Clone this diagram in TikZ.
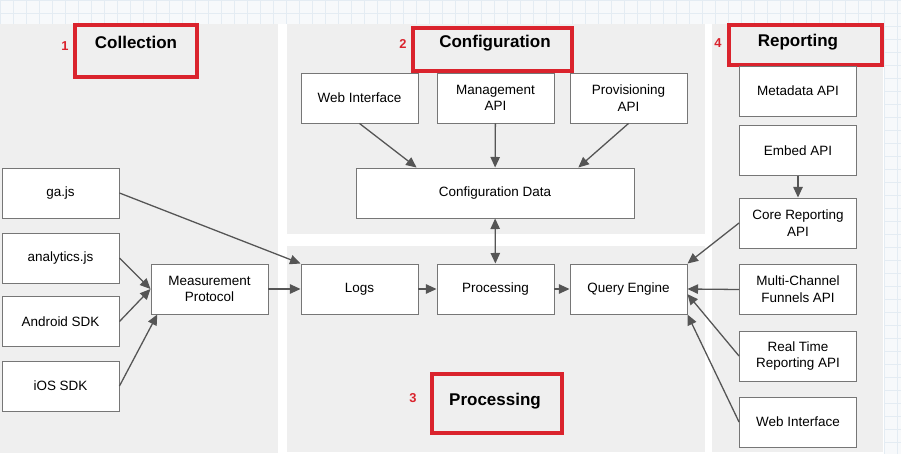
\documentclass[tikz,border=0pt]{standalone}
\usepackage{fontspec}
\setmainfont{Liberation Sans}
\usepackage{tikz}
\usetikzlibrary{arrows.meta}
\definecolor{gridblue}{RGB}{228,236,243}
\definecolor{paper}{RGB}{247,249,251}
\definecolor{panelgray}{RGB}{239,239,239}
\definecolor{boxline}{RGB}{118,118,118}
\definecolor{arrowgray}{RGB}{85,85,85}
\definecolor{markred}{RGB}{218,35,45}

\begin{document}
\begin{tikzpicture}[x=0.03cm,y=-0.03cm,
  box/.style={draw=boxline,line width=0.8pt,fill=white,minimum width=3.51cm,minimum height=1.5cm,
    inner sep=1pt,align=center,font=\fontsize{11.5}{14.2}\selectfont},
  flow/.style={draw=arrowgray,line width=1.1pt,-{Triangle[length=9pt,width=8pt]}},
  redbox/.style={draw=markred,line width=3.2pt},
  head/.style={font=\fontsize{14.5}{17}\selectfont\bfseries},
  num/.style={text=markred,font=\fontsize{11}{13}\selectfont\bfseries}]
\useasboundingbox (0,0) rectangle (901,454);
% paper and panels
\fill[paper] (0,0) rectangle (901,454);
\foreach \gx in {0,13,...,900} \draw[gridblue,line width=0.3pt] (\gx,0) -- (\gx,454);
\foreach \gy in {0,13,...,454} \draw[gridblue,line width=0.3pt] (0,\gy) -- (901,\gy);
\fill[white] (0,24) rectangle (884,454);
\fill[panelgray] (0,24) rectangle (278,453);
\fill[panelgray] (287,24) rectangle (705,234);
\fill[panelgray] (287,246) rectangle (705,452);
\fill[panelgray] (712,24) rectangle (883,452);

% section titles
\draw[redbox] (75,25) rectangle (197,77);
\node[head] (colhead) at (136,42) {Collection};
\node[num] (n1) at (65,46) {1};
\draw[redbox] (413,28) rectangle (572,71);
\node[head] (confhead) at (495,43) {Configuration};
\node[num] (n2) at (403,44) {2};
\draw[redbox] (432,374) rectangle (562,433);
\node[head] (prochead) at (495,401) {Processing};
\node[num] (n3) at (413,398) {3};
\draw[redbox] (729,25) rectangle (882,65);
\node[head] (rephead) at (798,42) {Reporting};
\node[num] (n4) at (718,43) {4};

% collection
\node[box] (gajs) at (60.5,193) {ga.js};
\node[box] (analytics) at (60.5,258) {analytics.js};
\node[box] (android) at (60.5,321.5) {Android SDK};
\node[box] (ios) at (60.5,386) {iOS SDK};
\node[box] (mp) at (209.5,289) {Measurement\\Protocol};

% configuration
\node[box] (cweb) at (359.5,98) {Web Interface};
\node[box] (mgmt) at (495.5,98) {Management\\API};
\node[box] (prov) at (628.5,98) {Provisioning\\API};
\node[box,minimum width=8.34cm] (cdata) at (495,193) {Configuration Data};

% processing
\node[box] (logs) at (359.5,289) {Logs};
\node[box] (proc) at (495.5,289) {Processing};
\node[box] (qe) at (628.5,289) {Query Engine};

% reporting
\node[box] (meta) at (798,91) {Metadata API};
\node[box] (embed) at (798,150.5) {Embed API};
\node[box] (core) at (798,223) {Core Reporting\\API};
\node[box] (mcf) at (798,289.5) {Multi-Channel\\Funnels API};
\node[box] (rt) at (798,356) {Real Time\\Reporting API};
\node[box] (rweb) at (798,422) {Web Interface};

% connectors
\draw[flow] (gajs.east) -- (logs.north west);
\draw[flow] (analytics.east) -- (mp.west);
\draw[flow] (android.east) -- (mp.west);
\draw[flow] (ios.east) -- (mp.206);
\draw[flow] (mp) -- (logs);
\draw[flow] (logs) -- (proc);
\draw[flow] (proc) -- (qe);
\draw[flow] (cweb.south) -- (cdata.162);
\draw[flow] (mgmt) -- (cdata);
\draw[flow] (prov.south) -- (cdata.17);
\draw[flow,{Triangle[length=9pt,width=8pt]}-{Triangle[length=9pt,width=8pt]}] (cdata) -- (proc);
\draw[flow] (embed) -- (core);
\draw[flow] (core.west) -- (qe.north east);
\draw[flow] (mcf.west) -- (qe.east);
\draw[flow] (rt.west) -- (qe.-5);
\draw[flow] (rweb.west) -- (qe.south east);
\end{tikzpicture}
\end{document}
